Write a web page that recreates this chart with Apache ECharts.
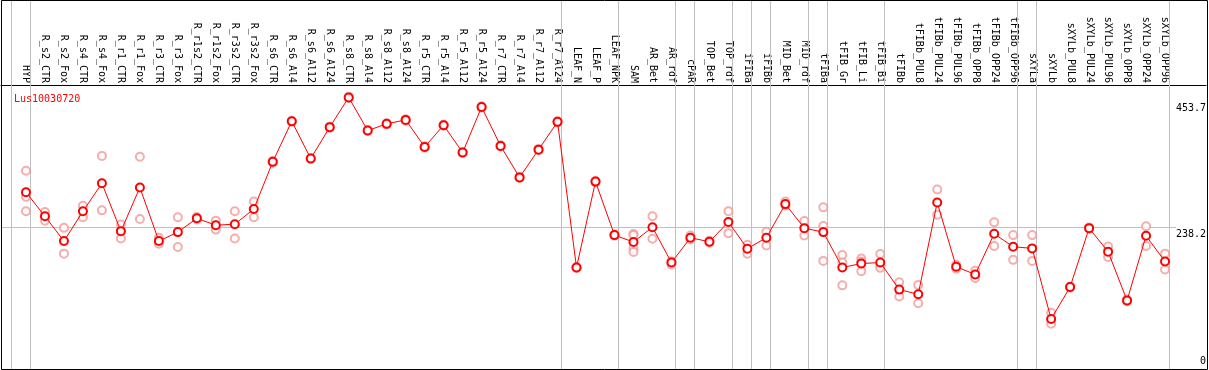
<!DOCTYPE html>
<html>
<head>
<meta charset="utf-8">
<script src="https://cdn.jsdelivr.net/npm/echarts@6/dist/echarts.min.js"></script>
<style>
html,body{margin:0;padding:0;background:#fff;}
#chart{width:1209px;height:370px;}
</style>
</head>
<body>
<div id="chart"></div>
<script>
const title = 'Lus10030720';
const categories = ['HYP','R_s2_CTR','R_s2_Fox','R_s4_CTR','R_s4_Fox','R_r1_CTR','R_r1_Fox','R_r3_CTR','R_r3_Fox','R_r1s2_CTR','R_r1s2_Fox','R_r3s2_CTR','R_r3s2_Fox','R_s6_CTR','R_s6_Al4','R_s6_Al12','R_s6_Al24','R_s8_CTR','R_s8_Al4','R_s8_Al12','R_s8_Al24','R_r5_CTR','R_r5_Al4','R_r5_Al12','R_r5_Al24','R_r7_CTR','R_r7_Al4','R_r7_Al12','R_r7_Al24','LEAF_N','LEAF_P','LEAF_NPK','SAM','AR_Bet','AR_rdf','cPAR','TOP_Bet','TOP_rdf','iFIBa','iFIBb','MID_Bet','MID_rdf','tFIBa','tFIB_Gr','tFIB_Li','tFIB_Bi','tFIBb','tFIBb_PUL8','tFIBb_PUL24','tFIBb_PUL96','tFIBb_OPP8','tFIBb_OPP24','tFIBb_OPP96','sXYLa','sXYLb','sXYLb_PUL8','sXYLb_PUL24','sXYLb_PUL96','sXYLb_OPP8','sXYLb_OPP24','sXYLb_OPP96'];
const means = [295.9,255.8,214.6,264.1,310.7,231.1,303.7,214.6,229.5,252.5,241.0,242.7,267.9,346.5,414.1,352.0,404.2,453.7,398.6,409.7,416.3,371.3,407.5,361.9,437.7,372.9,320.6,366.8,413.0,170.6,313.6,224.5,213.0,237.7,178.8,220.1,213.5,246.4,201.9,220.1,276.1,236.1,229.5,170.6,177.2,178.8,133.8,126.1,278.9,171.8,159.1,226.7,205.2,202.4,84.9,138.1,236.1,197.0,115.7,223.4,180.5];
const replicates = [
  [331.7,288.2,264.1],[262.9,248.6],[236.6,193.7],[273.3,254.2],[356.4,265.7],
  [242.0,218.9],[354.8,251.4],[220.1,210.2],[254.2,204.7],[250.5,254.5],
  [248.6,233.7],[264.1,218.9],[280.6,254.2],[345.0,348.0],[413.0,415.0],
  [351.0,353.0],[403.0,405.0],[452.5,455.0],[397.5,399.5],[408.5,410.5],
  [415.0,417.5],[370.0,372.5],[406.5,408.5],[361.0,363.0],[436.5,439.0],
  [372.0,374.0],[319.5,321.5],[366.0,368.0],[412.0,414.0],[169.5,171.5],
  [312.5,314.5],[223.5,225.5],[226.5,224.5,202.4,196.5],[255.8,218.4],[181.0,175.1],
  [223.9,217.3],[212.0,215.0],[264.1,227.8],[208.5,193.7],[230.0,207.4],
  [280.6,274.0],[248.1,223.9],[270.7,239.8,181.6],[191.5,178.8,140.9],[185.4,180.5,164.5],
  [193.2,173.4,170.0],[145.9,122.3],[141.4,111.2],[300.4,258.5],[175.1,168.5],
  [165.2,153.0],[245.9,206.4],[224.5,183.3],[224.5,181.6],[95.2,77.1],
  [139.0,137.0],[237.0,235.0],[205.7,188.2],[117.5,114.0],[239.4,206.4],[193.7,167.3]
];
const groupEnds = [-1,0,28,31,34,35,37,38,39,41,42,45,52,53,60];
const refValue = 238.2;
const yTickLabels = [0, 238.2, 453.7];

const FONT = 'DejaVu Sans Mono';
const GRAY = '#c0c0c0';
const xMin = -25/19, xMax = -25/19 + 1206/19;

const meanData = means.map((v,i)=>[i,v]);
const repData = [];
replicates.forEach((arr,i)=>arr.forEach(v=>repData.push([i,v])));

const chart = echarts.init(document.getElementById('chart'), null, {renderer:'canvas'});
chart.setOption({
  animation:false,
  backgroundColor:'#fff',
  title:{text:title,left:9,top:89,textStyle:{color:'#ff0000',fontSize:10,fontFamily:FONT,fontWeight:'normal'}},
  grid:{left:1,right:2,top:1,bottom:-3.5,show:false},
  xAxis:{
    type:'value',position:'top',offset:-84,min:xMin,max:xMax,
    axisLine:{show:true,onZero:false,lineStyle:{color:'#000',width:1}},
    axisTick:{show:false},splitLine:{show:false},
    axisLabel:{
      customValues:categories.map((c,i)=>i),
      formatter:v=>categories[Math.round(v)]||'',
      rotate:90,margin:2,color:'#000',fontSize:10,fontFamily:FONT
    }
  },
  yAxis:{
    type:'value',position:'right',min:0,max:372.5/(130.7/215.5),
    axisLine:{show:false},axisTick:{show:false},splitLine:{show:false},
    axisLabel:{
      inside:true,margin:0,color:'#000',fontSize:10,fontFamily:FONT,
      customValues:yTickLabels,
      formatter:v=>{
        if (v===0) return '{c|0}';
        if (Math.abs(v-238.2)<0.01) return '{b|238.2}';
        return '{a|'+v+'}';
      },
      rich:{
        a:{fontSize:10,fontFamily:FONT,color:'#000',padding:[22,0,0,0]},
        b:{fontSize:10,fontFamily:FONT,color:'#000',padding:[15,0,0,0]},
        c:{fontSize:10,fontFamily:FONT,color:'#000',padding:[0,0,17,0]}
      }
    }
  },
  graphic:[{type:'rect',silent:true,z:100,shape:{x:1.5,y:0.5,width:1206,height:369},style:{fill:null,stroke:'#000',lineWidth:1}}],
  series:[
    {
      type:'scatter',data:repData,z:2,
      symbol:'emptyCircle',symbolSize:8,
      itemStyle:{color:'#f19a9a',borderColor:'#f19a9a',borderWidth:1.3},
      markLine:{
        silent:true,symbol:'none',z:1,label:{show:false},
        lineStyle:{color:GRAY,width:1,type:'solid'},
        data:groupEnds.map(g=>({xAxis:g+0.2})).concat([[{coord:[xMin,refValue]},{coord:[60.58,refValue]}]])
      }
    },
    {
      type:'line',data:meanData,z:3,
      symbol:'emptyCircle',symbolSize:8,
      lineStyle:{color:'#ff0000',width:1},
      itemStyle:{color:'#ff0000',borderColor:'#ff0000',borderWidth:1.5}
    }
  ]
});
</script>
</body>
</html>
